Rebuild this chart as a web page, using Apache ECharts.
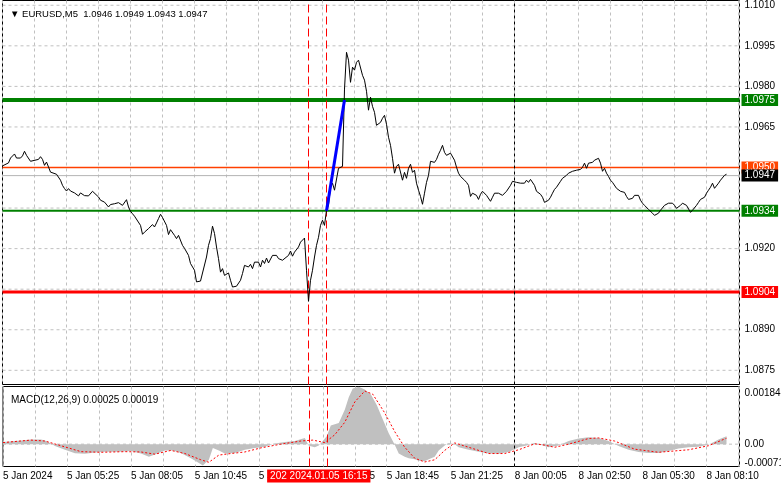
<!DOCTYPE html>
<html><head><meta charset="utf-8">
<script src="https://cdn.jsdelivr.net/npm/echarts@6/dist/echarts.min.js"></script>
<style>html,body{margin:0;padding:0;background:#fff}#c{width:781px;height:489px}</style>
</head><body><div id="c"></div>
<script>
// ---- data ----
const headerText = '\u25BC EURUSD,M5  1.0946 1.0949 1.0943 1.0947';
const macdHeaderText = 'MACD(12,26,9) 0.00025 0.00019';
const timeLabels = ['5 Jan 2024','5 Jan 05:25','5 Jan 08:05','5 Jan 10:45','5 Jan 13:25','5 Jan 16:05','5 Jan 18:45','5 Jan 21:25','8 Jan 00:05','8 Jan 02:50','8 Jan 05:30','8 Jan 08:10'];
const barsPerLabel = 32;
const barsPerGrid = 16;
const lastBarIndex = 368.5;
const priceTicks = [1.0875,1.0890,1.0905,1.0920,1.0935,1.0950,1.0965,1.0980,1.0995,1.1010];
const priceTickLabels = [1.0875,1.0890,1.0920,1.0965,1.0980,1.0995,1.1010];
const priceMin = 1.086975, priceMax = 1.101176;
const resistanceLevel = 1.0975;
const pivotLevel = 1.0950;
const supportLevel = 1.0934;
const lowLevel = 1.0904;
const lastPrice = 1.0947;
const newsBars = [153, 162];
const daySeparatorBar = 256;
const crosshairText = '202 2024.01.05 16:15';
const impulseMove = [[162, 1.0934], [171, 1.0975]];
const macdTicks = [0.00184, 0, -0.00071];
const macdMin = -0.000715, macdMax = 0.001845;
const closes = [[0,1.09506],[3,1.09517],[4,1.09535],[6,1.09550],[7,1.09535],[9,1.09535],[10,1.09543],[11,1.09560],[12,1.09545],[14,1.09523],[15,1.09530],[18,1.09530],[19,1.09540],[20,1.09530],[21,1.09508],[22,1.09520],[23,1.09502],[24,1.09483],[25,1.09477],[27,1.09475],[28,1.09474],[29,1.09453],[30,1.09434],[31,1.09422],[32,1.09413],[33,1.09422],[34,1.09413],[36,1.09406],[37,1.09403],[38,1.09395],[39,1.09406],[41,1.09396],[43,1.09395],[44,1.09401],[45,1.09412],[46,1.09412],[48,1.09391],[49,1.09379],[50,1.09382],[51,1.09372],[53,1.09354],[54,1.09363],[56,1.09366],[58,1.09370],[59,1.09366],[60,1.09360],[61,1.09354],[62,1.09381],[63,1.09354],[64,1.09338],[65,1.09329],[66,1.09320],[67,1.09315],[69,1.09286],[70,1.09253],[71,1.09261],[73,1.09274],[74,1.09270],[75,1.09289],[76,1.09280],[77,1.09295],[78,1.09311],[79,1.09327],[80,1.09315],[81,1.09311],[82,1.09286],[83,1.09252],[84,1.09270],[86,1.09249],[87,1.09237],[88,1.09249],[90,1.09212],[91,1.09201],[93,1.09175],[94,1.09145],[96,1.09120],[97,1.09077],[98,1.09083],[99,1.09080],[100,1.09073],[102,1.09169],[103,1.09212],[104,1.09237],[105,1.09283],[106,1.09256],[107,1.09206],[108,1.09163],[109,1.09113],[110,1.09126],[111,1.09101],[113,1.09110],[114,1.09083],[115,1.09058],[117,1.09061],[119,1.09083],[120,1.09108],[121,1.09138],[123,1.09132],[124,1.09142],[125,1.09126],[126,1.09150],[127,1.09145],[128,1.09150],[129,1.09132],[130,1.09157],[131,1.09145],[132,1.09165],[133,1.09147],[135,1.09175],[136,1.09169],[137,1.09175],[138,1.09163],[140,1.09157],[141,1.09159],[143,1.09175],[144,1.09191],[145,1.09172],[146,1.09187],[148,1.09206],[149,1.09224],[150,1.09231],[151,1.09239],[152,1.09120],[153,1.09005],[154,1.09083],[155,1.09120],[156,1.09169],[157,1.09212],[158,1.09242],[159,1.09286],[160,1.09305],[161,1.09286],[162,1.09342],[163,1.09360],[164,1.09427],[165,1.09442],[166,1.09416],[167,1.09423],[168,1.09497],[169,1.09504],[170,1.09504],[171,1.09790],[172,1.09926],[173,1.09897],[174,1.09815],[175,1.09871],[176,1.09860],[177,1.09889],[178,1.09897],[179,1.09904],[180,1.09841],[181,1.09823],[182,1.09782],[183,1.09712],[184,1.09760],[185,1.09726],[186,1.09704],[187,1.09656],[188,1.09656],[189,1.09667],[190,1.09682],[191,1.09693],[192,1.09660],[193,1.09612],[194,1.09582],[195,1.09534],[196,1.09479],[197,1.09504],[198,1.09512],[199,1.09519],[200,1.09453],[201,1.09482],[202,1.09460],[203,1.09497],[204,1.09512],[205,1.09482],[206,1.09490],[207,1.09442],[208,1.09416],[209,1.09393],[210,1.09364],[211,1.09405],[212,1.09445],[213,1.09471],[214,1.09523],[215,1.09527],[216,1.09519],[217,1.09530],[218,1.09549],[219,1.09564],[220,1.09582],[221,1.09556],[222,1.09545],[223,1.09541],[224,1.09553],[225,1.09549],[226,1.09527],[227,1.09501],[228,1.09479],[229,1.09467],[230,1.09464],[231,1.09453],[232,1.09445],[233,1.09434],[234,1.09393],[235,1.09405],[236,1.09408],[237,1.09397],[238,1.09382],[239,1.09401],[240,1.09412],[241,1.09419],[242,1.09397],[243,1.09390],[244,1.09375],[245,1.09390],[246,1.09405],[247,1.09405],[248,1.09405],[249,1.09401],[250,1.09397],[251,1.09401],[252,1.09412],[253,1.09419],[254,1.09434],[255,1.09449],[256,1.09442],[257,1.09445],[258,1.09449],[259,1.09442],[260,1.09449],[261,1.09442],[262,1.09453],[263,1.09445],[264,1.09456],[265,1.09460],[266,1.09434],[267,1.09412],[268,1.09408],[269,1.09401],[270,1.09390],[271,1.09371],[272,1.09364],[273,1.09379],[274,1.09390],[275,1.09405],[276,1.09419],[277,1.09427],[278,1.09423],[279,1.09449],[280,1.09460],[281,1.09464],[282,1.09471],[283,1.09479],[284,1.09482],[285,1.09486],[286,1.09490],[287,1.09490],[288,1.09493],[289,1.09493],[290,1.09501],[291,1.09516],[292,1.09497],[293,1.09516],[294,1.09512],[295,1.09519],[296,1.09527],[297,1.09530],[298,1.09534],[299,1.09516],[300,1.09486],[301,1.09497],[302,1.09479],[303,1.09467],[304,1.09453],[305,1.09445],[306,1.09442],[307,1.09423],[308,1.09416],[309,1.09412],[310,1.09408],[311,1.09408],[312,1.09393],[313,1.09382],[314,1.09375],[315,1.09386],[316,1.09397],[317,1.09393],[318,1.09397],[319,1.09379],[320,1.09368],[321,1.09360],[322,1.09353],[323,1.09345],[324,1.09338],[325,1.09331],[326,1.09323],[327,1.09327],[328,1.09331],[329,1.09342],[330,1.09349],[331,1.09360],[332,1.09353],[333,1.09368],[334,1.09371],[335,1.09368],[336,1.09360],[337,1.09349],[338,1.09342],[339,1.09360],[340,1.09368],[341,1.09371],[342,1.09360],[343,1.09353],[344,1.09334],[345,1.09342],[346,1.09349],[347,1.09360],[348,1.09371],[349,1.09382],[350,1.09386],[351,1.09390],[352,1.09405],[353,1.09416],[354,1.09427],[355,1.09442],[356,1.09423],[357,1.09430],[358,1.09442],[359,1.09453],[360,1.09460],[361,1.09471],[362,1.09475]];
const macdHist = [[0,0.00007],[9,0.00012],[14,0.00015],[19,0.00015],[21,0.00012],[24,0.00002],[26,-0.00006],[31,-0.00018],[36,-0.00029],[41,-0.00031],[46,-0.00027],[51,-0.00024],[58,-0.00024],[64,-0.00022],[69,-0.00030],[73,-0.00040],[76,-0.00033],[81,-0.00020],[85,-0.00020],[89,-0.00028],[94,-0.00045],[98,-0.00060],[100,-0.00068],[103,-0.00050],[105,-0.00012],[108,-0.00020],[111,-0.00030],[116,-0.00028],[121,-0.00018],[126,-0.00012],[131,-0.00008],[136,0.00002],[141,0.00007],[146,0.00010],[151,0.00020],[153,-0.00005],[156,-0.00010],[158,-0.00004],[160,0.00010],[162,0.00025],[164,0.00060],[168,0.00068],[171,0.00110],[173,0.00150],[175,0.00178],[178,0.00184],[181,0.00175],[184,0.00160],[187,0.00125],[190,0.00080],[193,0.00035],[196,-0.00002],[198,-0.00030],[201,-0.00040],[203,-0.00045],[206,-0.00048],[208,-0.00053],[211,-0.00055],[213,-0.00048],[216,-0.00040],[218,-0.00020],[221,-0.00004],[223,0.00004],[226,0.00000],[228,-0.00010],[233,-0.00018],[238,-0.00024],[243,-0.00030],[248,-0.00031],[253,-0.00025],[258,-0.00010],[263,-0.00003],[266,0.00004],[268,0.00000],[273,-0.00010],[278,-0.00004],[283,0.00010],[288,0.00018],[293,0.00022],[298,0.00020],[303,0.00010],[308,-0.00006],[313,-0.00018],[318,-0.00025],[323,-0.00028],[328,-0.00028],[333,-0.00022],[338,-0.00014],[343,-0.00010],[348,-0.00008],[353,-0.00002],[358,0.00015],[362,0.00025]];
const macdSignal = [[0,0.00005],[14,0.00013],[21,0.00010],[29,-0.00005],[39,-0.00024],[49,-0.00026],[61,-0.00024],[69,-0.00025],[76,-0.00032],[84,-0.00020],[91,-0.00030],[99,-0.00050],[103,-0.00058],[108,-0.00035],[114,-0.00030],[121,-0.00025],[129,-0.00012],[139,0.00000],[149,0.00010],[155,0.00013],[161,0.00005],[166,0.00030],[171,0.00070],[176,0.00135],[181,0.00170],[185,0.00160],[191,0.00100],[196,0.00040],[201,-0.00010],[206,-0.00045],[211,-0.00057],[216,-0.00050],[221,-0.00020],[226,0.00004],[233,-0.00010],[243,-0.00030],[251,-0.00030],[258,-0.00018],[266,0.00001],[271,-0.00003],[276,-0.00010],[283,0.00000],[293,0.00018],[298,0.00020],[306,0.00010],[316,-0.00016],[328,-0.00026],[343,-0.00018],[353,-0.00005],[362,0.00019]];

// ---- chart ----
const FONT = 'Liberation Sans, Arial, sans-serif';
const GRID_COL = '#c0c0c0';
const CLEAR = 'rgba(0,0,0,0)';
const PREC = 6;
const chart = echarts.init(document.getElementById('c'), null, {renderer: 'canvas'});

function hLines(values) {
  const out = [];
  values.forEach(v => { out.push([0, v], [lastBarIndex, v], ['-', '-']); });
  return out;
}
function levelSeries(value, color, width, z) {
  return {type: 'line', xAxisIndex: 0, yAxisIndex: 0, data: hLines([value]), z, silent: true,
    symbol: 'none', connectNulls: false, lineStyle: {color, width, type: 'solid', opacity: 1}};
}

function xAxisCfg(gridIndex, showLabels) {
  return {
    type: 'value', gridIndex, min: 0, max: lastBarIndex, interval: barsPerGrid,
    axisLine: {show: false}, axisTick: {show: false},
    splitLine: {show: true, lineStyle: {color: GRID_COL, type: [3, 3], width: 1}},
    axisLabel: {
      show: showLabels, align: 'left', margin: 5, color: '#000', fontSize: 10, fontFamily: FONT,
      showMinLabel: true, showMaxLabel: false,
      formatter: v => (v % barsPerLabel === 0 && timeLabels[v / barsPerLabel]) ? timeLabels[v / barsPerLabel] : ''
    }
  };
}
function levelLabel(bg) {
  return {show: true, position: 'end', distance: 2, formatter: p => Number(p.value).toFixed(4),
    backgroundColor: bg, color: '#fff', padding: [1, 3, 0, 3], fontSize: 10, fontFamily: FONT, lineHeight: 11};
}
function vLine(bar, color, dash) {
  return {xAxis: bar, lineStyle: {color, type: dash, width: 1}, label: {show: false}};
}
const plainLabel = {show: true, position: 'end', distance: 5, color: '#000', fontSize: 10, fontFamily: FONT};

const option = {
  animation: false,
  backgroundColor: '#fff',
  title: [
    {text: headerText, left: 5, top: 4, textStyle: {fontSize: 9.5, fontWeight: 'normal', color: '#000', fontFamily: FONT}},
    {text: macdHeaderText, left: 6, top: 390, textStyle: {fontSize: 10, fontWeight: 'normal', color: '#000', fontFamily: FONT}}
  ],
  grid: [
    {left: 2.5, top: 0.5, width: 737, height: 384, show: true, borderColor: '#000', borderWidth: 1, backgroundColor: '#fff'},
    {left: 2.5, top: 386.5, width: 737, height: 80, show: true, borderColor: '#000', borderWidth: 1, backgroundColor: '#fff'}
  ],
  xAxis: [xAxisCfg(0, false), xAxisCfg(1, true)],
  yAxis: [
    {type: 'value', gridIndex: 0, min: priceMin, max: priceMax, position: 'right', scale: true,
      axisLine: {show: false}, axisTick: {show: false}, axisLabel: {show: false}, splitLine: {show: false}},
    {type: 'value', gridIndex: 1, min: macdMin, max: macdMax, position: 'right',
      axisLine: {show: false}, axisTick: {show: false}, axisLabel: {show: false}, splitLine: {show: false}}
  ],
  series: [
    {type: 'line', xAxisIndex: 0, yAxisIndex: 0, data: hLines(priceTicks.filter(v => v !== pivotLevel)), z: 1, silent: true,
      symbol: 'none', connectNulls: false, lineStyle: {color: GRID_COL, type: [3, 3], width: 1}},
    {type: 'line', xAxisIndex: 0, yAxisIndex: 0, data: [], z: 1, silent: true,
      markLine: {silent: true, symbol: 'none', animation: false, precision: PREC,
        lineStyle: {color: CLEAR, width: 0},
        label: Object.assign({}, plainLabel, {formatter: p => Number(p.value).toFixed(4)}),
        data: priceTickLabels.map(v => ({yAxis: v}))}},
    {type: 'line', xAxisIndex: 0, yAxisIndex: 0, data: [], z: 2, silent: true,
      markLine: {silent: true, symbol: 'none', animation: false, precision: PREC,
        data: [vLine(daySeparatorBar, '#000', [3, 3]), vLine(newsBars[0], '#ff0000', [8, 4]), vLine(newsBars[1], '#ff0000', [8, 4])]}},
    levelSeries(lastPrice, '#b4b4b4', 1, 3),
    levelSeries(pivotLevel, '#ff4000', 1.6, 4),
    levelSeries(resistanceLevel, '#008000', 4, 4),
    levelSeries(supportLevel, '#008000', 2, 4),
    levelSeries(lowLevel, '#ff0000', 3, 4),
    {type: 'line', xAxisIndex: 0, yAxisIndex: 0, data: [], z: 5, silent: true,
      markLine: {silent: true, symbol: 'none', animation: false, precision: PREC,
        lineStyle: {color: CLEAR, width: 0},
        data: [
          {yAxis: resistanceLevel, label: levelLabel('#008000')},
          {yAxis: pivotLevel, label: levelLabel('#ff4500')},
          {yAxis: supportLevel, label: levelLabel('#008000')},
          {yAxis: lowLevel, label: levelLabel('#ff0000')}
        ]}},
    {type: 'line', name: 'EURUSD', xAxisIndex: 0, yAxisIndex: 0, data: closes, z: 6,
      symbol: 'none', lineStyle: {color: '#000', width: 1}},
    {type: 'line', xAxisIndex: 0, yAxisIndex: 0, data: impulseMove, z: 7,
      symbol: 'none', lineStyle: {color: '#0000ff', width: 3}},
    {type: 'line', xAxisIndex: 0, yAxisIndex: 0, data: [], z: 8, silent: true,
      markLine: {z: 8, silent: true, symbol: 'none', animation: false, precision: PREC,
        data: [{yAxis: lastPrice, lineStyle: {color: CLEAR, width: 0}, label: levelLabel('#000')}]}},
    {type: 'line', xAxisIndex: 1, yAxisIndex: 1, data: hLines([macdTicks[1]]), z: 1, silent: true,
      symbol: 'none', connectNulls: false, lineStyle: {color: GRID_COL, type: [3, 3], width: 1}},
    {type: 'line', xAxisIndex: 1, yAxisIndex: 1, data: [], z: 1, silent: true,
      markLine: {silent: true, symbol: 'none', animation: false, precision: PREC,
        lineStyle: {color: CLEAR, width: 0},
        label: Object.assign({}, plainLabel, {formatter: p => Number(p.value) === 0 ? '0.00' : Number(p.value).toFixed(5)}),
        data: [
          {yAxis: macdTicks[1]},
          {yAxis: macdTicks[0], label: {offset: [0, 7]}},
          {yAxis: macdTicks[2], label: {offset: [0, -3]}}
        ]}},
    {type: 'line', name: 'MACD', xAxisIndex: 1, yAxisIndex: 1, data: macdHist, z: 2,
      symbol: 'none', lineStyle: {width: 0}, areaStyle: {color: '#c0c0c0', opacity: 1}},
    {type: 'line', name: 'Signal', xAxisIndex: 1, yAxisIndex: 1, data: macdSignal, z: 3,
      symbol: 'none', lineStyle: {color: '#ff0000', width: 1, type: [2, 2]}},
    {type: 'line', xAxisIndex: 1, yAxisIndex: 1, data: [], z: 5, silent: true,
      markLine: {silent: true, symbol: 'none', animation: false, precision: PREC,
        data: [
          vLine(daySeparatorBar, '#000', [3, 3]),
          vLine(newsBars[0], '#ff0000', [8, 4]),
          {xAxis: newsBars[1], lineStyle: {color: '#ff0000', type: [8, 4], width: 1},
            label: {show: true, position: 'start', formatter: crosshairText, distance: 3, offset: [-8, 0],
              backgroundColor: '#ff0000', color: '#fff', padding: [2, 3, 1, 3], fontSize: 10, fontFamily: FONT}}
        ]}}
  ]
};
chart.setOption(option);
</script>
</body></html>
